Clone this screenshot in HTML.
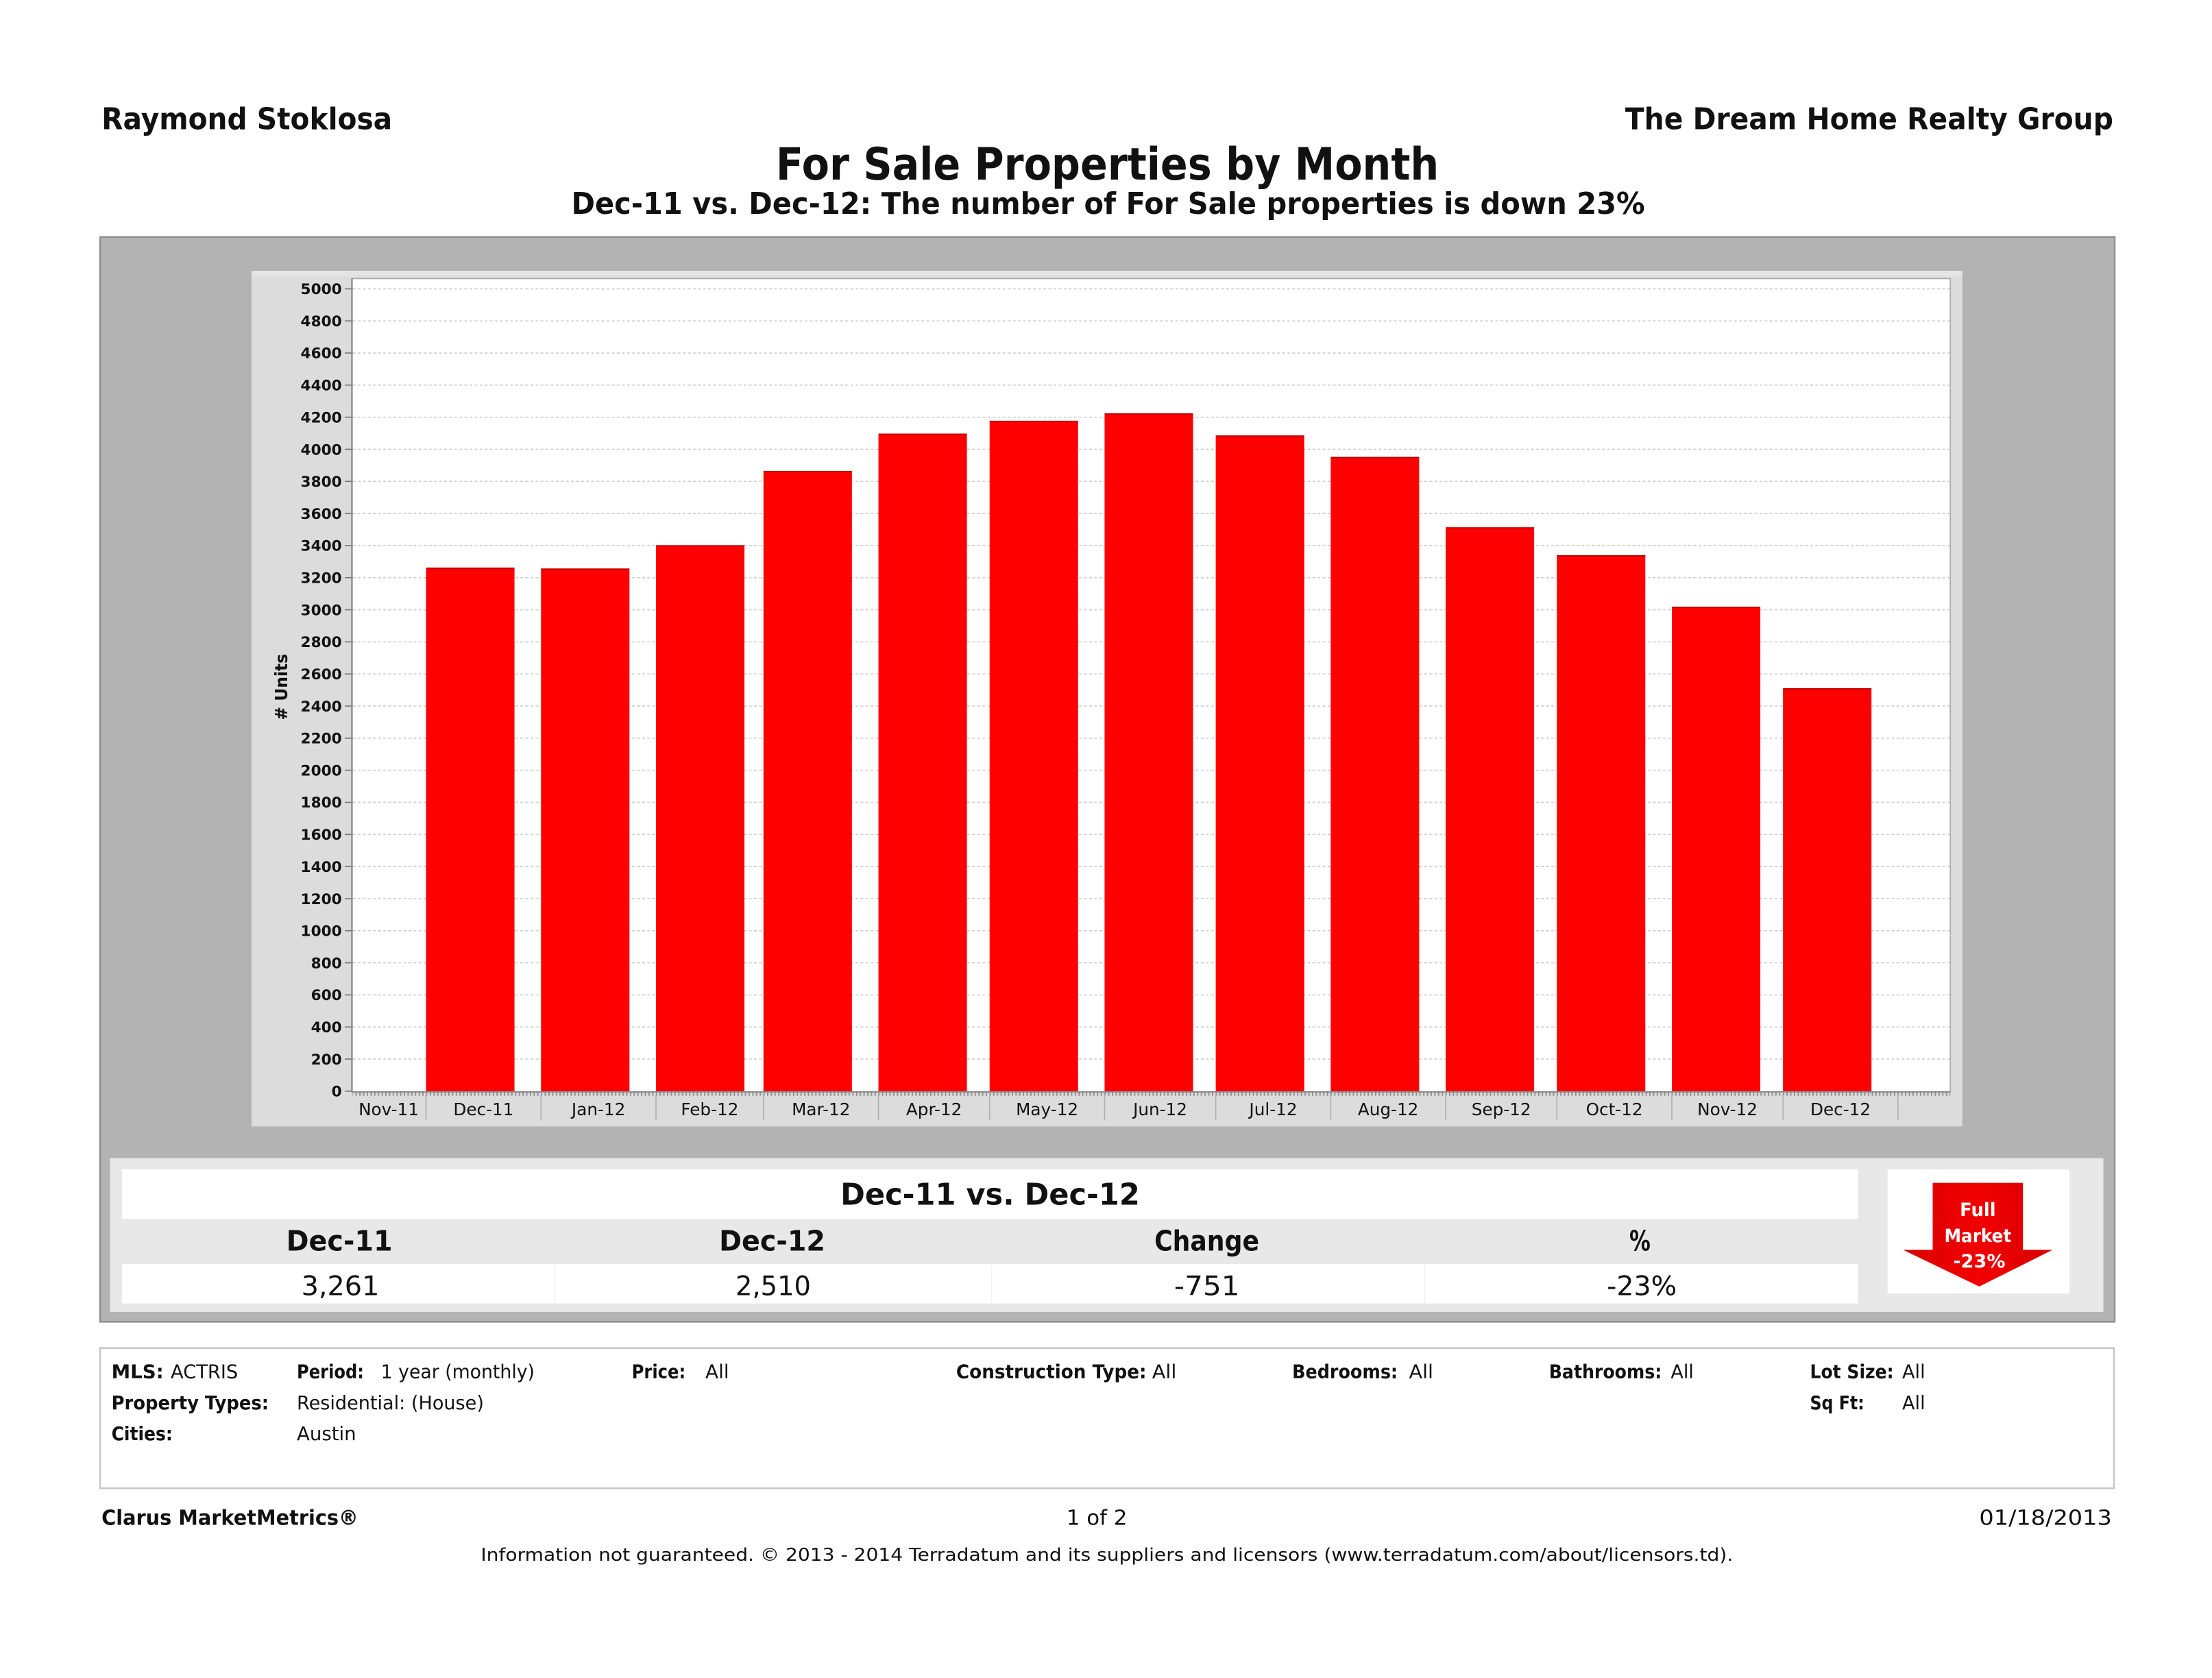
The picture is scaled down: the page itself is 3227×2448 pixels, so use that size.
<!DOCTYPE html>
<html><head><meta charset="utf-8"><style>
html,body{margin:0;padding:0;background:#fff;}
svg{display:block;}
text{font-family:"DejaVu Sans","Liberation Sans",sans-serif;fill:#111;}
.b{font-weight:bold;}
</style></head><body>
<svg xmlns="http://www.w3.org/2000/svg" width="3227" height="2448" viewBox="0 0 1568 1189.5" preserveAspectRatio="none">
<defs>
<pattern id="mt" patternUnits="userSpaceOnUse" x="302" y="774" width="2.6276" height="3">
<rect x="0" y="0" width="0.9" height="3" fill="#8a8a8a"/>
</pattern>
<linearGradient id="ag" x1="0" y1="0" x2="1" y2="0">
<stop offset="0" stop-color="#d80000"/><stop offset="0.5" stop-color="#f20000"/><stop offset="1" stop-color="#d80000"/>
</linearGradient>
</defs>
<rect x="0" y="0" width="1568" height="1189.5" fill="#fff"/>

<!-- header -->
<text class="b" x="72" y="91.5" font-size="21" textLength="206" lengthAdjust="spacingAndGlyphs">Raymond Stoklosa</text>
<text class="b" x="1152" y="91.5" font-size="21" textLength="346" lengthAdjust="spacingAndGlyphs">The Dream Home Realty Group</text>
<text class="b" x="550" y="127.2" font-size="31.5" textLength="470" lengthAdjust="spacingAndGlyphs">For Sale Properties by Month</text>
<text class="b" x="405" y="151.5" font-size="21" textLength="761" lengthAdjust="spacingAndGlyphs">Dec-11 vs. Dec-12: The number of For Sale properties is down 23%</text>

<!-- grey outer box -->
<rect x="71" y="168" width="1428" height="769" fill="#b3b3b3" stroke="#8e8e8e" stroke-width="1.2"/>

<!-- chart panel -->
<rect x="178.3" y="192" width="1212.7" height="606.5" fill="#dcdcdc"/>
<rect x="178.3" y="192" width="1212.7" height="4" fill="#e4e4e4"/>
<rect x="249.5" y="197.5" width="1133" height="576.5" fill="#fff" stroke="#a8a8a8" stroke-width="0.8"/>

<!-- gridlines -->
<g stroke="#cdcdcd" stroke-width="0.8" stroke-dasharray="2 1.6">
<line x1="250" x2="1382" y1="750.75" y2="750.75"/>
<line x1="250" x2="1382" y1="728" y2="728"/>
<line x1="250" x2="1382" y1="705.25" y2="705.25"/>
<line x1="250" x2="1382" y1="682.5" y2="682.5"/>
<line x1="250" x2="1382" y1="659.75" y2="659.75"/>
<line x1="250" x2="1382" y1="637" y2="637"/>
<line x1="250" x2="1382" y1="614.25" y2="614.25"/>
<line x1="250" x2="1382" y1="591.5" y2="591.5"/>
<line x1="250" x2="1382" y1="568.75" y2="568.75"/>
<line x1="250" x2="1382" y1="546" y2="546"/>
<line x1="250" x2="1382" y1="523.25" y2="523.25"/>
<line x1="250" x2="1382" y1="500.5" y2="500.5"/>
<line x1="250" x2="1382" y1="477.75" y2="477.75"/>
<line x1="250" x2="1382" y1="455" y2="455"/>
<line x1="250" x2="1382" y1="432.25" y2="432.25"/>
<line x1="250" x2="1382" y1="409.5" y2="409.5"/>
<line x1="250" x2="1382" y1="386.75" y2="386.75"/>
<line x1="250" x2="1382" y1="364" y2="364"/>
<line x1="250" x2="1382" y1="341.25" y2="341.25"/>
<line x1="250" x2="1382" y1="318.5" y2="318.5"/>
<line x1="250" x2="1382" y1="295.75" y2="295.75"/>
<line x1="250" x2="1382" y1="273" y2="273"/>
<line x1="250" x2="1382" y1="250.25" y2="250.25"/>
<line x1="250" x2="1382" y1="227.5" y2="227.5"/>
<line x1="250" x2="1382" y1="204.75" y2="204.75"/>
</g>

<!-- bars -->
<g fill="#fe0000">
<rect x="302" y="402.4" width="62.7" height="371.6"/>
<rect x="383.5" y="403" width="62.7" height="371"/>
<rect x="465" y="386.5" width="62.7" height="387.5"/>
<rect x="541.2" y="333.8" width="62.7" height="440.2"/>
<rect x="622.7" y="307.4" width="62.7" height="466.6"/>
<rect x="701.5" y="298.3" width="62.7" height="475.7"/>
<rect x="783" y="293" width="62.7" height="481"/>
<rect x="861.8" y="308.7" width="62.7" height="465.3"/>
<rect x="943.3" y="323.9" width="62.7" height="450.1"/>
<rect x="1024.8" y="373.8" width="62.7" height="400.2"/>
<rect x="1103.6" y="393.6" width="62.7" height="380.4"/>
<rect x="1185.1" y="430.1" width="62.7" height="343.9"/>
<rect x="1263.9" y="487.9" width="62.7" height="286.1"/>
</g>
<g fill="#b80000">
<rect x="302" y="402.4" width="62.7" height="0.8"/>
<rect x="383.5" y="403" width="62.7" height="0.8"/>
<rect x="465" y="386.5" width="62.7" height="0.8"/>
<rect x="541.2" y="333.8" width="62.7" height="0.8"/>
<rect x="622.7" y="307.4" width="62.7" height="0.8"/>
<rect x="701.5" y="298.3" width="62.7" height="0.8"/>
<rect x="783" y="293" width="62.7" height="0.8"/>
<rect x="861.8" y="308.7" width="62.7" height="0.8"/>
<rect x="943.3" y="323.9" width="62.7" height="0.8"/>
<rect x="1024.8" y="373.8" width="62.7" height="0.8"/>
<rect x="1103.6" y="393.6" width="62.7" height="0.8"/>
<rect x="1185.1" y="430.1" width="62.7" height="0.8"/>
<rect x="1263.9" y="487.9" width="62.7" height="0.8"/>
</g>

<!-- axes -->
<line x1="249.5" y1="197.5" x2="249.5" y2="774" stroke="#7a7a7a" stroke-width="1"/>
<line x1="249.5" y1="774" x2="1382.5" y2="774" stroke="#8a8a8a" stroke-width="1"/>
<rect x="250" y="774" width="1132.5" height="2.8" fill="url(#mt)"/>

<!-- y ticks -->
<g stroke="#777" stroke-width="0.8">
<line x1="244.5" x2="249.5" y1="773.5" y2="773.5"/>
<line x1="244.5" x2="249.5" y1="750.75" y2="750.75"/>
<line x1="244.5" x2="249.5" y1="728" y2="728"/>
<line x1="244.5" x2="249.5" y1="705.25" y2="705.25"/>
<line x1="244.5" x2="249.5" y1="682.5" y2="682.5"/>
<line x1="244.5" x2="249.5" y1="659.75" y2="659.75"/>
<line x1="244.5" x2="249.5" y1="637" y2="637"/>
<line x1="244.5" x2="249.5" y1="614.25" y2="614.25"/>
<line x1="244.5" x2="249.5" y1="591.5" y2="591.5"/>
<line x1="244.5" x2="249.5" y1="568.75" y2="568.75"/>
<line x1="244.5" x2="249.5" y1="546" y2="546"/>
<line x1="244.5" x2="249.5" y1="523.25" y2="523.25"/>
<line x1="244.5" x2="249.5" y1="500.5" y2="500.5"/>
<line x1="244.5" x2="249.5" y1="477.75" y2="477.75"/>
<line x1="244.5" x2="249.5" y1="455" y2="455"/>
<line x1="244.5" x2="249.5" y1="432.25" y2="432.25"/>
<line x1="244.5" x2="249.5" y1="409.5" y2="409.5"/>
<line x1="244.5" x2="249.5" y1="386.75" y2="386.75"/>
<line x1="244.5" x2="249.5" y1="364" y2="364"/>
<line x1="244.5" x2="249.5" y1="341.25" y2="341.25"/>
<line x1="244.5" x2="249.5" y1="318.5" y2="318.5"/>
<line x1="244.5" x2="249.5" y1="295.75" y2="295.75"/>
<line x1="244.5" x2="249.5" y1="273" y2="273"/>
<line x1="244.5" x2="249.5" y1="250.25" y2="250.25"/>
<line x1="244.5" x2="249.5" y1="227.5" y2="227.5"/>
<line x1="244.5" x2="249.5" y1="204.75" y2="204.75"/>
</g>
<g class="b" font-size="10.5" text-anchor="end">
<text x="242.3" y="777.3">0</text>
<text x="242.3" y="754.5">200</text>
<text x="242.3" y="731.8">400</text>
<text x="242.3" y="709">600</text>
<text x="242.3" y="686.3">800</text>
<text x="242.3" y="663.5">1000</text>
<text x="242.3" y="640.8">1200</text>
<text x="242.3" y="618">1400</text>
<text x="242.3" y="595.3">1600</text>
<text x="242.3" y="572.5">1800</text>
<text x="242.3" y="549.8">2000</text>
<text x="242.3" y="527">2200</text>
<text x="242.3" y="504.3">2400</text>
<text x="242.3" y="481.5">2600</text>
<text x="242.3" y="458.8">2800</text>
<text x="242.3" y="436">3000</text>
<text x="242.3" y="413.3">3200</text>
<text x="242.3" y="390.5">3400</text>
<text x="242.3" y="367.8">3600</text>
<text x="242.3" y="345">3800</text>
<text x="242.3" y="322.3">4000</text>
<text x="242.3" y="299.5">4200</text>
<text x="242.3" y="276.8">4400</text>
<text x="242.3" y="254">4600</text>
<text x="242.3" y="231.3">4800</text>
<text x="242.3" y="208.5">5000</text>
</g>
<text class="b" font-size="12" text-anchor="middle" transform="translate(203.5,487) rotate(-90)" textLength="47" lengthAdjust="spacingAndGlyphs"># Units</text>

<!-- x dividers -->
<g stroke="#b0b0b0" stroke-width="0.8">
<line x1="302" x2="302" y1="776" y2="794"/>
<line x1="383.5" x2="383.5" y1="776" y2="794"/>
<line x1="465" x2="465" y1="776" y2="794"/>
<line x1="541.2" x2="541.2" y1="776" y2="794"/>
<line x1="622.7" x2="622.7" y1="776" y2="794"/>
<line x1="701.5" x2="701.5" y1="776" y2="794"/>
<line x1="783" x2="783" y1="776" y2="794"/>
<line x1="861.8" x2="861.8" y1="776" y2="794"/>
<line x1="943.3" x2="943.3" y1="776" y2="794"/>
<line x1="1024.8" x2="1024.8" y1="776" y2="794"/>
<line x1="1103.6" x2="1103.6" y1="776" y2="794"/>
<line x1="1185.1" x2="1185.1" y1="776" y2="794"/>
<line x1="1263.9" x2="1263.9" y1="776" y2="794"/>
<line x1="1345.4" x2="1345.4" y1="776" y2="794"/>
</g>
<g font-size="12" text-anchor="middle">
<text x="275.5" y="790.5">Nov-11</text>
<text x="342.75" y="790.5">Dec-11</text>
<text x="424.25" y="790.5">Jan-12</text>
<text x="503.1" y="790.5">Feb-12</text>
<text x="582" y="790.5">Mar-12</text>
<text x="662.1" y="790.5">Apr-12</text>
<text x="742.25" y="790.5">May-12</text>
<text x="822.4" y="790.5">Jun-12</text>
<text x="902.55" y="790.5">Jul-12</text>
<text x="984" y="790.5">Aug-12</text>
<text x="1064.2" y="790.5">Sep-12</text>
<text x="1144.35" y="790.5">Oct-12</text>
<text x="1224.5" y="790.5">Nov-12</text>
<text x="1304.65" y="790.5">Dec-12</text>
</g>

<!-- summary panel -->
<rect x="78" y="821" width="1413" height="109" fill="#e8e8e8"/>
<rect x="86.5" y="829" width="1230.5" height="35" fill="#fff"/>
<rect x="86.5" y="896" width="1230.5" height="28" fill="#fff"/>
<g stroke="#f2f2f2" stroke-width="0.8">
<line x1="393" x2="393" y1="896" y2="924"/>
<line x1="703" x2="703" y1="896" y2="924"/>
<line x1="1010" x2="1010" y1="896" y2="924"/>
</g>
<text class="b" x="595.8" y="854" font-size="21" textLength="212.2" lengthAdjust="spacingAndGlyphs">Dec-11 vs. Dec-12</text>
<text class="b" x="202.9" y="886.5" font-size="20" textLength="75.3" lengthAdjust="spacingAndGlyphs">Dec-11</text>
<text class="b" x="509.8" y="886.5" font-size="20" textLength="75.2" lengthAdjust="spacingAndGlyphs">Dec-12</text>
<text class="b" x="818.3" y="886.5" font-size="20" textLength="74.3" lengthAdjust="spacingAndGlyphs">Change</text>
<text class="b" x="1155" y="886.5" font-size="20" textLength="15" lengthAdjust="spacingAndGlyphs">%</text>
<text x="213.6" y="918.2" font-size="19" textLength="55.3" lengthAdjust="spacingAndGlyphs">3,261</text>
<text x="521.4" y="918.2" font-size="19" textLength="53.4" lengthAdjust="spacingAndGlyphs">2,510</text>
<text x="832.3" y="918.2" font-size="19" textLength="46.5" lengthAdjust="spacingAndGlyphs">-751</text>
<text x="1139" y="918.2" font-size="19" textLength="49.6" lengthAdjust="spacingAndGlyphs">-23%</text>

<!-- arrow box -->
<rect x="1338" y="829" width="129" height="88" fill="#fff"/>
<polygon points="1370,838.5 1434,838.5 1434,886 1455,886 1403,912 1349,886 1370,886" fill="url(#ag)"/>
<g class="b" font-size="13" text-anchor="middle" style="fill:#fff">
<text x="1402" y="862" style="fill:#fff" textLength="25.5" lengthAdjust="spacingAndGlyphs">Full</text>
<text x="1402" y="880.5" style="fill:#fff" textLength="47.5" lengthAdjust="spacingAndGlyphs">Market</text>
<text x="1403" y="898.5" style="fill:#fff" textLength="37" lengthAdjust="spacingAndGlyphs">-23%</text>
</g>

<!-- filter box -->
<rect x="71" y="955.6" width="1427.5" height="99.4" fill="#fff" stroke="#c8c8c8" stroke-width="1.3"/>
<g font-size="13.5">
<text class="b" x="79" y="977" textLength="37" lengthAdjust="spacingAndGlyphs">MLS:</text>
<text x="121" y="977" textLength="47.7" lengthAdjust="spacingAndGlyphs">ACTRIS</text>
<text class="b" x="210.4" y="977" textLength="47.6" lengthAdjust="spacingAndGlyphs">Period:</text>
<text x="270" y="977" textLength="109" lengthAdjust="spacingAndGlyphs">1 year (monthly)</text>
<text class="b" x="447.8" y="977" textLength="38.2" lengthAdjust="spacingAndGlyphs">Price:</text>
<text x="500" y="977" textLength="16.8" lengthAdjust="spacingAndGlyphs">All</text>
<text class="b" x="677.8" y="977" textLength="134.9" lengthAdjust="spacingAndGlyphs">Construction Type:</text>
<text x="816.7" y="977" textLength="17.3" lengthAdjust="spacingAndGlyphs">All</text>
<text class="b" x="916" y="977" textLength="74.8" lengthAdjust="spacingAndGlyphs">Bedrooms:</text>
<text x="998.8" y="977" textLength="17.2" lengthAdjust="spacingAndGlyphs">All</text>
<text class="b" x="1098" y="977" textLength="80" lengthAdjust="spacingAndGlyphs">Bathrooms:</text>
<text x="1184.3" y="977" textLength="16.3" lengthAdjust="spacingAndGlyphs">All</text>
<text class="b" x="1283" y="977" textLength="59.4" lengthAdjust="spacingAndGlyphs">Lot Size:</text>
<text x="1348.4" y="977" textLength="16.3" lengthAdjust="spacingAndGlyphs">All</text>
<text class="b" x="79" y="999" textLength="111.5" lengthAdjust="spacingAndGlyphs">Property Types:</text>
<text x="210.4" y="999" textLength="132.6" lengthAdjust="spacingAndGlyphs">Residential: (House)</text>
<text class="b" x="1283" y="999" textLength="38.5" lengthAdjust="spacingAndGlyphs">Sq Ft:</text>
<text x="1348.4" y="999" textLength="16.3" lengthAdjust="spacingAndGlyphs">All</text>
<text class="b" x="79" y="1021" textLength="43.4" lengthAdjust="spacingAndGlyphs">Cities:</text>
<text x="210.4" y="1021" textLength="42.1" lengthAdjust="spacingAndGlyphs">Austin</text>
</g>

<!-- footer -->
<text class="b" x="72" y="1081" font-size="14.5" textLength="182" lengthAdjust="spacingAndGlyphs">Clarus MarketMetrics®</text>
<text x="756" y="1081" font-size="14.5" textLength="43" lengthAdjust="spacingAndGlyphs">1 of 2</text>
<text x="1403" y="1081" font-size="14.5" textLength="94" lengthAdjust="spacingAndGlyphs">01/18/2013</text>
<text x="340.8" y="1106.3" font-size="12.5" textLength="887.7" lengthAdjust="spacingAndGlyphs">Information not guaranteed.  © 2013 - 2014 Terradatum and its suppliers and licensors (www.terradatum.com/about/licensors.td).</text>
</svg>
</body></html>
